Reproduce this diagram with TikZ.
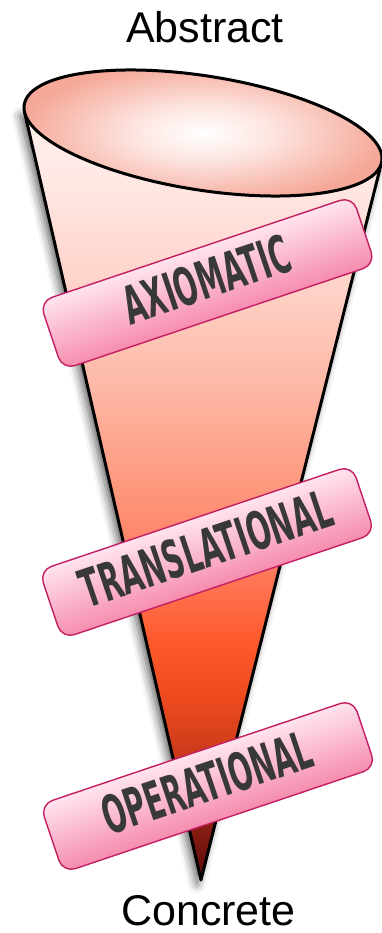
\documentclass[tikz,border=0pt]{standalone}
\usepackage{fontspec}
\setmainfont{Liberation Sans}
\newfontfamily\labelfont{DejaVu Sans Condensed}
\usepackage{graphicx}
\usetikzlibrary{shadows.blur}

\definecolor{ca}{HTML}{5C0A0A}
\definecolor{cb}{HTML}{8E2014}
\definecolor{cc}{HTML}{C8381A}
\definecolor{cd}{HTML}{EC4A1E}
\definecolor{ce}{HTML}{FF5A2C}
\definecolor{cf}{HTML}{FF7A5C}
\definecolor{cg}{HTML}{FD9A80}
\definecolor{ch}{HTML}{FDBAA8}
\definecolor{ci}{HTML}{FFD4CA}
\definecolor{cj}{HTML}{FFE8E4}
\definecolor{ck}{HTML}{FFF0EE}
\definecolor{rimone}{HTML}{FDE6E2}
\definecolor{rimtwo}{HTML}{F5A898}
\definecolor{boxedge}{HTML}{C41E64}
\definecolor{boxtop}{HTML}{FFE4EE}
\definecolor{boxbot}{HTML}{F68CAE}
\definecolor{labeltext}{HTML}{383838}

\pgfdeclareverticalshading{conefill}{100bp}{color(0bp)=(ca); color(25bp)=(ca); color(28.9bp)=(cb); color(32.8bp)=(cc); color(36.7bp)=(cd); color(40.6bp)=(ce); color(45.2bp)=(cf); color(51bp)=(cg); color(57.6bp)=(ch); color(64.1bp)=(ci); color(70.6bp)=(cj); color(75bp)=(ck); color(100bp)=(ck)}
\pgfdeclareradialshading{rimfill}{\pgfpoint{0bp}{0bp}}{color(0bp)=(white); color(9bp)=(rimone); color(25bp)=(rimtwo); color(50bp)=(rimtwo)}

\newcommand{\cuelabel}[2]{\raisebox{8pt}{\resizebox{#1}{39pt}{\labelfont\bfseries #2}}}

\begin{document}
\begin{tikzpicture}[x=1pt,y=-1pt,
  labelbox/.style={draw=boxedge, line width=1.4pt, rounded corners=13pt,
    top color=boxtop, bottom color=boxbot, minimum width=330pt,
    minimum height=72pt, inner sep=0pt, text=labeltext},
  endlabel/.style={anchor=base, font=\fontsize{43}{50}\selectfont, inner sep=0pt}]
\useasboundingbox (0,0) rectangle (382,933);

\coordinate (tip) at (201,880);
\coordinate (L) at (24.5,111.8);
\coordinate (C) at (203,133);
\coordinate (R) at (381.5,162.7);

% cone body
\draw[line width=3pt, line join=round, shading=conefill,
  blur shadow={shadow xshift=-4pt, shadow yshift=-4pt, shadow blur radius=9pt, shadow opacity=65}]
  (tip) -- (L) -- (C) -- (R) -- cycle;

% rim
\draw[line width=3pt, shading=rimfill, rotate around={-9:(C)}]
  (C) ellipse [x radius=181, y radius=57];

% labels
\begin{scope}[transform canvas={shift={(207.5,283)}, rotate=18.6}]
  \node[labelbox] (axiomatic) at (0,0) {\cuelabel{173pt}{AXIOMATIC}};
\end{scope}
\begin{scope}[transform canvas={shift={(207,552)}, rotate=18.6}]
  \node[labelbox] (translational) at (0,0) {\cuelabel{262pt}{TRANSLATIONAL}};
\end{scope}
\begin{scope}[transform canvas={shift={(208,786)}, rotate=18.6}]
  \node[labelbox] (operational) at (0,0) {\cuelabel{218pt}{OPERATIONAL}};
\end{scope}

\node[endlabel] (abstract) at (205,43) {Abstract};
\node[endlabel] (concrete) at (208.5,925) {Concrete};
\end{tikzpicture}
\end{document}
